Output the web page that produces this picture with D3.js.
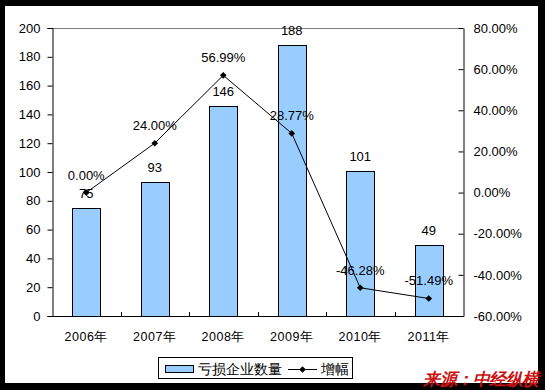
<!DOCTYPE html>
<html><head><meta charset="utf-8">
<script src="https://cdn.jsdelivr.net/npm/d3@7"></script>
<style>
html,body{margin:0;padding:0;background:#000;}
svg{display:block;}
text{font-family:"Liberation Sans",Arial,sans-serif;fill:#000;}
</style></head>
<body>
<svg id="c" width="545" height="390"></svg>
<script>
const categories = ["2006年","2007年","2008年","2009年","2010年","2011年"];
const lossCounts = [75, 93, 146, 188, 101, 49];
const growthPct = [0.00, 24.00, 56.99, 28.77, -46.28, -51.49];
const leftTicks = [0,20,40,60,80,100,120,140,160,180,200];
const rightTicks = [-60,-40,-20,0,20,40,60,80];
const barSeriesName = "亏损企业数量";
const lineSeriesName = "增幅";
const sourceText = "来源：中经纵横";

const pct = d => d.toFixed(2) + "%";

const svg = d3.select("#c");
svg.append("rect").attr("x",0).attr("y",0).attr("width",545).attr("height",390).attr("fill","#000");
svg.append("rect").attr("x",5).attr("y",6).attr("width",533).attr("height",377).attr("fill","#fff");

const L=52, R=463, T=28, B=316;
const x = d3.scaleBand().domain(categories).range([L,R]);
const yL = d3.scaleLinear().domain([0,200]).range([B,T]);
const yR = d3.scaleLinear().domain([-60,80]).range([B,T]);

// top border
svg.append("line").attr("x1",L).attr("x2",R).attr("y1",T+0.5).attr("y2",T+0.5).attr("stroke","#808080");

// bars
const bw = x.bandwidth()*0.41;
svg.selectAll("rect.bar").data(lossCounts).enter().append("rect")
  .attr("class","bar")
  .attr("x",(d,i)=>Math.round(x(categories[i])+x.bandwidth()/2-bw/2)+0.5)
  .attr("y",d=>Math.round(yL(d))+0.5)
  .attr("width",Math.round(bw))
  .attr("height",d=>B-Math.round(yL(d)))
  .attr("fill","#99ccff").attr("stroke","#000").attr("stroke-width",1);

// left axis
const gl = svg.append("g").attr("transform",`translate(${L+0.5},0)`)
  .call(d3.axisLeft(yL).tickValues(leftTicks).tickSize(5).tickPadding(7).tickFormat(d=>String(d)));
gl.select(".domain").attr("stroke","#000");
gl.selectAll(".tick line").attr("stroke","#000");
gl.selectAll("text").attr("font-size","13px").attr("font-family",'"Liberation Sans",Arial,sans-serif');

// right axis (ticks inside)
const gr = svg.append("g").attr("transform",`translate(${R+0.5},0)`)
  .call(d3.axisRight(yR).tickValues(rightTicks).tickSize(0).tickPadding(10).tickFormat(pct));
gr.select(".domain").attr("stroke","#000");
gr.selectAll(".tick").append("line").attr("x1",-5).attr("x2",0).attr("stroke","#000");
gr.selectAll("text").attr("font-size","13px").attr("font-family",'"Liberation Sans",Arial,sans-serif');

// bottom axis
svg.append("line").attr("x1",L).attr("x2",R+1).attr("y1",B+0.5).attr("y2",B+0.5).attr("stroke","#000");
const bounds = categories.slice(1).map(c=>x(c));
svg.selectAll("line.xt").data(bounds).enter().append("line")
  .attr("x1",d=>Math.round(d)+0.5).attr("x2",d=>Math.round(d)+0.5)
  .attr("y1",B-4).attr("y2",B).attr("stroke","#000");
svg.selectAll("text.xl").data(categories).enter().append("text")
  .attr("x",d=>x(d)+x.bandwidth()/2).attr("y",341)
  .attr("text-anchor","middle").attr("font-size","12.5px").attr("letter-spacing","0.5px")
  .text(d=>d);

// bar labels
svg.selectAll("text.bl").data(lossCounts).enter().append("text")
  .attr("x",(d,i)=>x(categories[i])+x.bandwidth()/2)
  .attr("y",d=>yL(d)-10)
  .attr("text-anchor","middle").attr("font-size","13px").text(d=>d);

// line
const cx = i=>x(categories[i])+x.bandwidth()/2;
const line = d3.line().x((d,i)=>cx(i)).y(d=>yR(d));
svg.append("path").datum(growthPct).attr("d",line).attr("fill","none").attr("stroke","#000").attr("stroke-width",1);
svg.selectAll("path.pt").data(growthPct).enter().append("path")
  .attr("d",d3.symbol().type(d3.symbolSquare).size(22))
  .attr("transform",(d,i)=>`translate(${cx(i)},${yR(d)}) rotate(45)`)
  .attr("fill","#000");
svg.selectAll("text.pl").data(growthPct).enter().append("text")
  .attr("x",(d,i)=>cx(i)).attr("y",d=>yR(d)-13)
  .attr("text-anchor","middle").attr("font-size","13px")
  .text(pct);

// legend
const lg = svg.append("g");
lg.append("rect").attr("x",158.5).attr("y",357.5).attr("width",194).attr("height",21).attr("fill","#fff").attr("stroke","#000");
lg.append("rect").attr("x",165.5).attr("y",365.5).attr("width",28).attr("height",7).attr("fill","#99ccff").attr("stroke","#000");
lg.append("text").attr("x",198).attr("y",374).attr("font-size","13.5px")
  .attr("font-family",'"Noto Sans CJK SC",sans-serif').text(barSeriesName);
lg.append("line").attr("x1",288).attr("x2",317).attr("y1",369.5).attr("y2",369.5).attr("stroke","#000");
lg.append("path").attr("d",d3.symbol().type(d3.symbolSquare).size(22)).attr("transform","translate(302.5,369.5) rotate(45)").attr("fill","#000");
lg.append("text").attr("x",321).attr("y",374).attr("font-size","13.5px")
  .attr("font-family",'"Noto Sans CJK SC",sans-serif').text(lineSeriesName);

// source watermark
svg.append("text").attr("x",423).attr("y",385).attr("font-size","17px").attr("font-weight","bold")
  .attr("font-style","italic").attr("font-family",'"Noto Sans CJK SC",sans-serif')
  .attr("letter-spacing","-0.5px")
  .style("fill","#cc1111").text(sourceText);
</script>
</body></html>
